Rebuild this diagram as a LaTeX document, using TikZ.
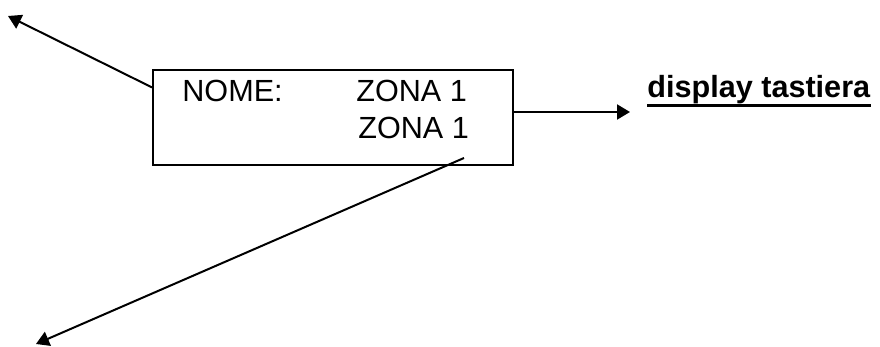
\documentclass[tikz,border=0pt]{standalone}
\usepackage{fontspec}
\setmainfont{Liberation Sans}
\usepackage{tikz}
\usetikzlibrary{arrows.meta, positioning, calc}
\tikzset{
    panel/.style={rectangle, draw=black, line width=1pt, minimum width=180pt, minimum height=47.5pt, inner sep=0pt},
    txt/.style={inner sep=0pt, anchor=base west, font=\fontsize{15.3pt}{18pt}\selectfont},
    caption/.style={txt, font=\fontsize{15.3pt}{18pt}\selectfont\bfseries},
    arrow/.style={line width=1pt, -{Triangle[length=6.5pt, width=7.5pt]}}
}
\begin{document}
\begin{tikzpicture}[x=0.5pt, y=-0.5pt]
    \useasboundingbox (0,0) rectangle (880,347);
    \node (display) [panel] at (333,117.5) {};
    \node (nome) [txt] at (182,102) {NOME:};
    \node (zona1) [txt] at (356,102) {ZONA 1};
    \node (zona2) [txt] at (358,139) {ZONA 1};
    \node (keypad) [caption] at (647,98) {display tastiera};
    \draw [line width=1.5pt] ([yshift=-3.6pt]keypad.base west) -- ([yshift=-3.6pt]keypad.base east);

    \coordinate (upleft) at (8,16);
    \coordinate (right) at (630,112);
    \coordinate (downleft) at (36,344);

    \draw [arrow] ($(display.north west)!0.19!(display.south west)$) -- (upleft);
    \draw [arrow] ($(display.east)+(0,-5.5)$) -- (right);
    \draw [arrow] ($(display.south east)+(-50,-8)$) -- (downleft);
\end{tikzpicture}
\end{document}
